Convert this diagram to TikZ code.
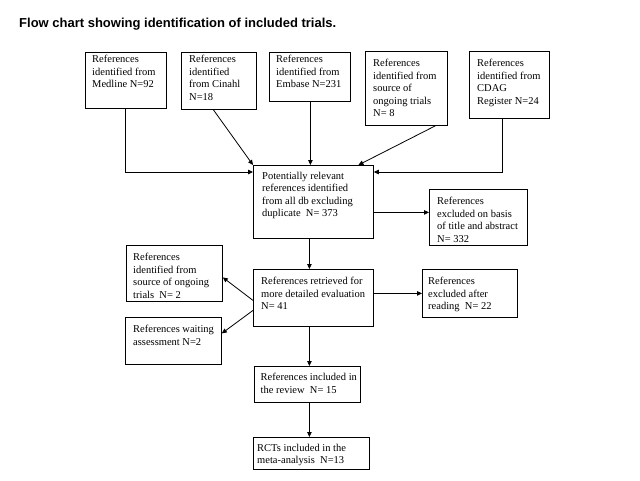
\documentclass[tikz,border=0pt]{standalone}
\usepackage{fontspec}
\setmainfont{Liberation Serif}
\newfontfamily\titlefont{Liberation Sans}
\usetikzlibrary{arrows.meta}
\tikzset{
  box/.style={draw=black, line width=0.8pt, inner sep=0pt, anchor=north west},
  txt/.style={inner sep=0pt, anchor=north west, align=left, font=\fontsize{10.5}{12.5}\selectfont},
  arr/.style={draw=black, line width=0.8pt, -{Triangle[length=5pt,width=4.5pt]}},
  conn/.style={draw=black, line width=0.8pt}
}
\begin{document}
\begin{tikzpicture}[x=1pt,y=-1pt]
\useasboundingbox[fill=white] (0,0) rectangle (640,480);
\node[anchor=base west, inner sep=0pt, font=\titlefont\bfseries\fontsize{13}{15}\selectfont] (title) at (19,27.5) {Flow chart showing identification of included trials.};

% boxes
\node[box, minimum width=81, minimum height=56] (med) at (85,52) {};
\node[box, minimum width=75, minimum height=57] (cin) at (181,52) {};
\node[box, minimum width=81, minimum height=49] (emb) at (269,52) {};
\node[box, minimum width=82, minimum height=74] (ong) at (365,51) {};
\node[box, minimum width=80, minimum height=67] (cdag) at (469,51) {};
\node[box, minimum width=120, minimum height=73] (pot) at (253,165) {};
\node[box, minimum width=98, minimum height=56] (exa) at (429,189) {};
\node[box, minimum width=120, minimum height=57] (ret) at (253,269) {};
\node[box, minimum width=95, minimum height=48] (exb) at (422,269) {};
\node[box, minimum width=96, minimum height=56] (ongb) at (126,245) {};
\node[box, minimum width=96, minimum height=47] (wait) at (125,317) {};
\node[box, minimum width=106, minimum height=36] (rev) at (254,366) {};
\node[box, minimum width=116, minimum height=32] (rct) at (253,437) {};

% texts
\node[txt] (medt) at ([shift={(7,3)}]med.north west) {References\\identified from\\Medline N=92};
\node[txt] (cint) at ([shift={(8,3)}]cin.north west) {References\\identified\\from Cinahl\\N=18};
\node[txt] (embt) at ([shift={(7,3)}]emb.north west) {References\\identified from\\Embase N=231};
\node[txt] (ongt) at ([shift={(8,8)}]ong.north west) {References\\identified from\\source of\\ongoing trials\\N= 8};
\node[txt] (cdagt) at ([shift={(8,8)}]cdag.north west) {References\\identified from\\CDAG\\Register N=24};
\node[txt] (pott) at ([shift={(9,7)}]pot.north west) {Potentially relevant\\references identified\\from all db excluding\\duplicate\ \ N= 373};
\node[txt] (exat) at ([shift={(8,8)}]exa.north west) {References\\excluded on basis\\of title and abstract\\N= 332};
\node[txt] (rett) at ([shift={(8,8)}]ret.north west) {References retrieved for\\more detailed evaluation\\N= 41};
\node[txt] (exbt) at ([shift={(6,8)}]exb.north west) {References\\excluded after\\reading\ \ N= 22};
\node[txt] (ongbt) at ([shift={(7,8)}]ongb.north west) {References\\identified from\\source of ongoing\\trials\ \ N= 2};
\node[txt] (waitt) at ([shift={(8,8)}]wait.north west) {References waiting\\assessment N=2};
\node[txt] (revt) at ([shift={(6.5,7)}]rev.north west) {References included in\\the review\ \ N= 15};
\node[txt] (rctt) at ([shift={(4,7)}]rct.north west) {RCTs included in the\\meta-analysis\ \ N=13};

% connectors
\coordinate (pinl) at ([yshift=-7]pot.north west);
\coordinate (pinr) at ([yshift=-7]pot.north east);
\draw[arr] ([xshift=-0.5]med.south) |- (pinl);
\draw[arr] ([xshift=-5.5]cin.south) -- (pot.north west);
\draw[arr] ([xshift=0.5]emb.south) -- ([xshift=0.5]emb.south |- pot.north);
\draw[arr] ([xshift=29]ong.south) -- ([xshift=45]pot.north);
\draw[arr] ([xshift=-7]cdag.south) |- (pinr);
\draw[arr] ([yshift=-10.5]pot.east) -- ([yshift=-10.5]pot.east -| exa.west);
\draw[arr] ([xshift=-4]pot.south) -- ([xshift=-4]ret.north);
\draw[arr] (ret.east |- exb.west) -- (exb.west);
\draw[arr] ([yshift=-2.5]ret.west) -- ([yshift=-4]ongb.east);
\draw[arr] ([yshift=-12.5]ret.west) -- ([yshift=7.5]wait.east);
\draw[arr] ([xshift=-4]ret.south) -- ([xshift=-4]ret.south |- rev.north);
\draw[arr] ([xshift=2]rev.south) -- ([xshift=2]rev.south |- rct.north);
\end{tikzpicture}
\end{document}
